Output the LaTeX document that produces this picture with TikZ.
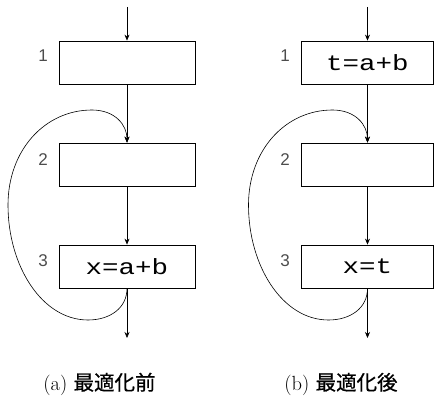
\documentclass[tikz,border=0pt]{standalone}
\usepackage{fontspec}
\newfontfamily\codefont[FakeStretch=1.25]{Liberation Mono}
\newfontfamily\labfont{Liberation Sans}
\newfontfamily\cjk[FakeBold=0.6]{Noto Sans CJK JP}
\usetikzlibrary{arrows.meta}
\begin{document}
\begin{tikzpicture}[x=1pt,y=-1pt,
  blk/.style={draw, line width=0.8pt, minimum width=136pt, minimum height=43pt, inner sep=0pt,
    font=\codefont\fontsize{22}{26}\selectfont},
  blkr/.style={blk, minimum width=132pt},
  lab/.style={font=\labfont\fontsize{17}{20}\selectfont, text=black!70, inner sep=0pt},
  flow/.style={-{Stealth[length=6pt,width=5pt]}, line width=0.6pt},
  captext/.style={font=\fontsize{20.5}{24}\selectfont, inner sep=0pt}]
\useasboundingbox (0,0) rectangle (434,398);
% ---- left diagram ----
\node[blk] (a1) at (127,62.5) {};
\node[blk] (a2) at (127,164.5) {};
\node[blk] (a3) at (127,266.5) {x=a+b};
\coordinate (ain) at (127,7);
\coordinate (aout) at (127,338);
\node[lab] (la1) at (43,56) {1};
\node[lab] (la2) at (43,160) {2};
\node[lab] (la3) at (43,261) {3};
\draw[flow] (ain) -- (a1);
\draw[flow] (a1) -- (a2);
\draw[flow] (a2) -- (a3);
\draw[flow] (a3) -- (aout);
\draw[flow] (a3.south) .. controls (127,308) and (110,320) .. (88,320)
  .. controls (42,320) and (8,266) .. (8,205)
  .. controls (8,150) and (45,110) .. (92,110)
  .. controls (115,110) and (127,125) .. (a2.north);
\node[captext] (capa) at (99.5,384) {(a) {\cjk 最適化前}};
% ---- right diagram ----
\node[blkr] (b1) at (367.5,62.5) {t=a+b};
\node[blkr] (b2) at (367.5,164.5) {};
\node[blkr] (b3) at (367.5,266.5) {x=t};
\coordinate (bin) at (367.5,7);
\coordinate (bout) at (367.5,338);
\node[lab] (lb1) at (285,56) {1};
\node[lab] (lb2) at (285,160) {2};
\node[lab] (lb3) at (285,261) {3};
\draw[flow] (bin) -- (b1);
\draw[flow] (b1) -- (b2);
\draw[flow] (b2) -- (b3);
\draw[flow] (b3) -- (bout);
\draw[flow] (b3.south) .. controls (367.5,308) and (350.5,320) .. (328.5,320)
  .. controls (282.5,320) and (248.5,266) .. (248.5,205)
  .. controls (248.5,150) and (285.5,110) .. (332.5,110)
  .. controls (355.5,110) and (367.5,125) .. (b2.north);
\node[captext] (capb) at (341,384) {(b) {\cjk 最適化後}};
\end{tikzpicture}
\end{document}
